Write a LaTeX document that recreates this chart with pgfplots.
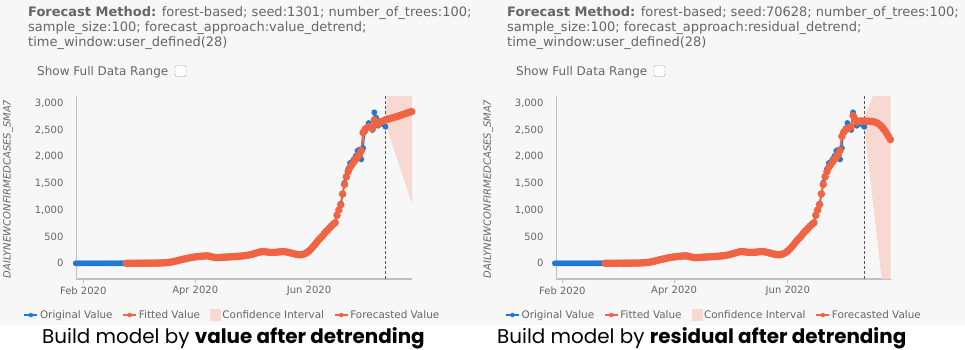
\documentclass[border=0pt]{standalone}
\usepackage{pgfplots}
\pgfplotsset{compat=1.18}
\usepackage{pgfplotstable}
\usepackage{fontspec}
\setmainfont{DejaVu Sans}
\newfontfamily\capfont{Poppins}

\definecolor{bgray}{HTML}{F7F7F7}
\definecolor{tgray}{HTML}{666666}
\definecolor{agray}{HTML}{BFBFBF}
\definecolor{oblue}{RGB}{30,120,212}
\definecolor{fred}{RGB}{240,100,68}
\definecolor{cipink}{RGB}{247,217,209}
\definecolor{dgray}{HTML}{555555}

\pgfplotstableread{
day val
-4 0
-3 0
-2 0
-1 0
0 0
1 0
2 0
3 0
4 0
5 0
6 0
7 0
8 0
9 0
10 0
11 0
12 0
13 0
14 0
15 0
16 0
17 0
18 0
19 0
20 0
21 0
22 0
23 0
24 0
25 0
26 1
27 1
28 1
29 1
30 2
31 2
32 2
33 2
34 3
35 3
36 3
37 4
38 4
39 5
40 5
41 6
42 7
43 9
44 11
45 14
46 18
47 23
48 30
49 38
50 46
51 55
52 64
53 72
54 80
55 88
56 96
57 103
58 109
59 115
60 120
61 124
62 128
63 132
64 135
65 138
66 140
67 137
68 129
69 120
70 112
71 106
72 107
73 109
74 111
75 114
76 116
77 118
78 120
79 122
80 124
81 126
82 128
83 131
84 134
85 137
86 141
87 145
88 151
89 158
90 166
91 175
92 186
93 196
94 206
95 215
96 221
97 218
98 214
99 210
100 206
101 204
102 205
103 207
104 210
105 214
106 218
107 221
108 218
109 212
110 205
111 196
112 186
113 178
114 170
115 164
116 160
117 163
118 170
119 185
120 205
121 232
122 265
123 305
124 345
125 390
126 432
127 470
128 505
129 548
130 592
131 626
132 662
133 700
134 732
135 762
136 920
137 1010
138 1120
139 1290
140 1510
141 1640
142 1770
143 1880
144 1900
145 1950
146 2010
147 2110
148 2130
149 1950
150 2160
151 2470
152 2530
153 2630
154 2560
155 2500
156 2830
157 2730
158 2580
159 2620
160 2640
161 2600
162 2560
}\orig

\pgfplotstableread{
day val
23 0
24 0
25 0
26 1
27 1
28 1
29 1
30 2
31 2
32 2
33 2
34 3
35 3
36 3
37 4
38 4
39 5
40 5
41 6
42 7
43 9
44 11
45 14
46 18
47 23
48 30
49 38
50 46
51 55
52 64
53 72
54 80
55 88
56 96
57 103
58 109
59 115
60 120
61 124
62 128
63 132
64 135
65 138
66 140
67 137
68 129
69 120
70 112
71 106
72 107
73 109
74 111
75 114
76 116
77 118
78 120
79 122
80 124
81 126
82 128
83 131
84 134
85 137
86 141
87 145
88 151
89 158
90 166
91 175
92 186
93 196
94 206
95 215
96 221
97 218
98 214
99 210
100 206
101 204
102 205
103 207
104 210
105 214
106 218
107 221
108 218
109 212
110 205
111 196
112 186
113 178
114 170
115 164
116 160
117 163
118 170
119 185
120 205
121 232
122 265
123 305
124 345
125 390
126 432
127 470
128 505
129 548
130 592
131 626
132 662
133 700
134 732
135 762
136 900
137 1000
138 1100
139 1300
140 1480
141 1620
142 1720
143 1800
144 1850
145 1900
146 1950
147 1990
148 2040
}\fitc

\pgfplotstableread{
day val
148 2040
149 2110
150 2450
151 2510
152 2540
153 2560
154 2550
155 2530
156 2690
157 2620
158 2610
159 2650
160 2660
161 2670
162 2690
}\fitLt

\pgfplotstableread{
day val
148 2040
149 2120
150 2380
151 2460
152 2500
153 2530
154 2540
155 2560
156 2770
157 2700
158 2650
159 2660
160 2670
161 2665
162 2665
}\fitRt

\pgfplotstableread{
day val
162 2690
163 2700
164 2710
165 2720
166 2730
167 2740
168 2750
169 2762
170 2774
171 2786
172 2798
173 2810
174 2822
175 2834
176 2845
}\fcL

\pgfplotstableread{
day val
162 2665
163 2665
164 2665
165 2662
166 2660
167 2655
168 2645
169 2630
170 2605
171 2575
172 2535
173 2490
174 2435
175 2380
176 2320
}\fcR

\pgfplotsset{
 panel/.style={
  scale only axis, anchor=south west, height=183pt,
  ymin=-294, ymax=3137, clip=false,
  axis x line=bottom, axis y line=left,
  axis line style={-},
  x axis line style={draw=agray, line width=1.6pt},
  y axis line style={draw=agray, line width=0.9pt},
  xtick={0,60,121}, xticklabels={Feb 2020,Apr 2020,Jun 2020},
  ytick={0,500,1000,1500,2000,2500,3000},
  tick align=outside, major tick length=4pt,
  xtick style={draw=agray, line width=0.8pt},
  ytick style={draw=none},
  /pgf/number format/1000 sep={,},
  /pgf/number format/assume math mode=true,
  tick label style={font=\fontsize{10}{12}\selectfont, text=tgray},
  yticklabel style={xshift=-5pt},
  ylabel={DAILYNEWCONFIRMEDCASES\_SMA7},
  every axis y label/.style={at={(rel axis cs:-0.2024,0.492)}, rotate=90, anchor=center, font=\fontsize{10}{12}\selectfont\itshape, text=tgray},
  legend columns=4,
  legend cell align=left,
  legend style={draw=none, fill=none, anchor=west, font=\fontsize{10.4}{12}\selectfont, text=tgray,
    /tikz/every even column/.append style={column sep=8pt}},
 },
 orig/.style={oblue, line width=1.2pt, mark=*, mark size=2.3pt, mark options={draw=none, fill=oblue}, forget plot},
 fit/.style={fred, line width=2pt, mark=*, mark size=2.7pt, mark options={draw=none, fill=fred}, forget plot},
 dotleg/.style={legend image code/.code={\draw[##1, line width=1.3pt] (0pt,0pt) -- (13pt,0pt); \fill[##1] (6.5pt,0pt) circle (2pt);}},
 boxleg/.style={legend image code/.code={\fill[cipink] (0pt,-5.5pt) rectangle (10pt,5.5pt);}},
}

\begin{document}
\begin{tikzpicture}[x=1pt,y=1pt]
\fill[bgray] (0,0) rectangle (965,-324.5);
\fill[white] (0,-324.5) rectangle (965,-350);
\useasboundingbox (0,0) rectangle (965,-350);

% headers
\node[anchor=base west, inner sep=0pt, text=tgray, font=\fontsize{13}{15}\selectfont] at (28,-16.5) {\textbf{Forecast Method:} forest-based; seed:1301; number\_of\_trees:100;};
\node[anchor=base west, inner sep=0pt, text=tgray, font=\fontsize{13}{15}\selectfont] at (28,-31.8) {sample\_size:100; forecast\_approach:value\_detrend;};
\node[anchor=base west, inner sep=0pt, text=tgray, font=\fontsize{13}{15}\selectfont] at (28,-47) {time\_window:user\_defined(28)};
\node[anchor=base west, inner sep=0pt, text=tgray, font=\fontsize{12}{14}\selectfont] at (37,-76) {Show Full Data Range};
\draw[draw=gray!70, fill=white, rounded corners=1.5pt] (175,-65.5) rectangle (186,-76.5);

\node[anchor=base west, inner sep=0pt, text=tgray, font=\fontsize{13}{15}\selectfont] at (507,-16.5) {\textbf{Forecast Method:} forest-based; seed:70628; number\_of\_trees:100;};
\node[anchor=base west, inner sep=0pt, text=tgray, font=\fontsize{13}{15}\selectfont] at (507,-31.8) {sample\_size:100; forecast\_approach:residual\_detrend;};
\node[anchor=base west, inner sep=0pt, text=tgray, font=\fontsize{13}{15}\selectfont] at (507,-47) {time\_window:user\_defined(28)};
\node[anchor=base west, inner sep=0pt, text=tgray, font=\fontsize{12}{14}\selectfont] at (516,-76) {Show Full Data Range};
\draw[draw=gray!70, fill=white, rounded corners=1.5pt] (654,-65.5) rectangle (665,-76.5);

% left panel
\begin{axis}[panel, at={(76pt,-279pt)}, width=336pt, xmin=-3.9, xmax=176.2,
  legend style={at={(rel axis cs:-0.165,-0.197)}}]
\addplot[fill=cipink, draw=none, forget plot] coordinates {(162,2620) (162,2850) (163.0,3137) (176.2,3137) (176.2,1115)} -- cycle;
\addplot[dgray, dash pattern=on 3pt off 2pt, line width=0.8pt, forget plot] coordinates {(162.1,-294) (162.1,3137)};
\addplot[orig] table[x=day, y=val] {\orig};
\addplot[fit] table[x=day, y=val] {\fitc};
\addplot[fit] table[x=day, y=val] {\fitLt};
\addplot[fit] table[x=day, y=val] {\fcL};
\addlegendimage{dotleg, oblue}\addlegendentry{Original Value}
\addlegendimage{dotleg, fred}\addlegendentry{Fitted Value}
\addlegendimage{boxleg}\addlegendentry{Confidence Interval}
\addlegendimage{dotleg, fred}\addlegendentry{Forecasted Value}
\end{axis}

% right panel
\begin{axis}[panel, at={(556pt,-279pt)}, width=334.7pt, xmin=-3.4, xmax=176.2,
  legend style={at={(rel axis cs:-0.161,-0.197)}}]
\addplot[fill=cipink, draw=none, forget plot] coordinates {(162,2560) (162,2750) (166.8,3137) (176.2,3137) (176.2,-294) (171.4,-294)} -- cycle;
\addplot[dgray, dash pattern=on 3pt off 2pt, line width=0.8pt, forget plot] coordinates {(162.1,-294) (162.1,3137)};
\addplot[orig] table[x=day, y=val] {\orig};
\addplot[fit] table[x=day, y=val] {\fitc};
\addplot[fit] table[x=day, y=val] {\fitRt};
\addplot[fit] table[x=day, y=val] {\fcR};
\addlegendimage{dotleg, oblue}\addlegendentry{Original Value}
\addlegendimage{dotleg, fred}\addlegendentry{Fitted Value}
\addlegendimage{boxleg}\addlegendentry{Confidence Interval}
\addlegendimage{dotleg, fred}\addlegendentry{Forecasted Value}
\end{axis}

% captions
\node[anchor=base west, inner sep=0pt, font=\capfont\fontsize{19.9}{22}\selectfont] at (42,-343) {Build model by \textbf{value after detrending}};
\node[anchor=base west, inner sep=0pt, font=\capfont\fontsize{19.9}{22}\selectfont] at (497,-343) {Build model by \textbf{residual after detrending}};
\end{tikzpicture}
\end{document}
